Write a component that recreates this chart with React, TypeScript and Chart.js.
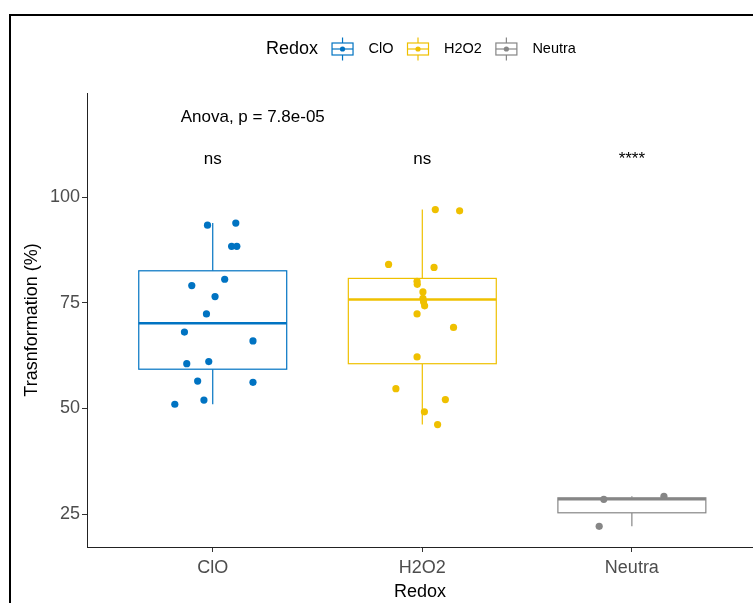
import React, { useEffect, useRef } from 'react';
import { Chart, registerables } from 'chart.js';
Chart.register(...registerables);

const categories = ['ClO', 'H2O2', 'Neutra'];
const seriesColors = ['#0073C2', '#EFC000', '#868686'];

const cioValues = [93.4, 93.9, 88.4, 88.4, 80.6, 79.1, 76.5, 72.4, 68.1, 66.0, 60.6, 61.1, 56.5, 56.2, 52.0, 51.0];
const cioJitter = [-0.025, 0.11, 0.09, 0.115, 0.057, -0.1, 0.011, -0.03, -0.135, 0.192, -0.124, -0.019, -0.072, 0.192, -0.042, -0.181];
const h2o2Values = [97.1, 96.8, 84.1, 83.4, 80.1, 79.4, 77.6, 76.1, 75.3, 74.3, 72.4, 69.2, 62.2, 54.7, 52.1, 49.2, 46.2];
const h2o2Jitter = [0.062, 0.178, -0.161, 0.056, -0.025, -0.024, 0.003, 0.003, 0.006, 0.011, -0.025, 0.149, -0.025, -0.126, 0.11, 0.01, 0.073];
const neutraValues = [28.5, 29.2, 22.1];
const neutraJitter = [-0.134, 0.153, -0.156];

const whiskerLow = [51.0, 46.2, 22.1];
const boxQ1 = [59.3, 60.6, 25.3];
const boxMedian = [70.2, 75.8, 28.5];
const boxQ3 = [82.6, 80.8, 28.85];
const whiskerHigh = [93.9, 97.1, 29.2];

const yTicks = [25, 50, 75, 100];
const xTicks = [0, 1, 2];
const sigLabels = ['ns', 'ns', '****'];
const sigY = 109.0;
const anovaLabel = 'Anova, p = 7.8e-05';
const anovaX = -0.153;
const anovaY = 119.0;

const FONT = '"Liberation Sans", Arial, sans-serif';
const BOX_HALF = 0.353;

const framePlugin = {
  id: 'frame',
  beforeDraw(chart: any) {
    const ctx = chart.ctx;
    ctx.save();
    ctx.fillStyle = '#ffffff';
    ctx.fillRect(0, 0, chart.width, chart.height);
    ctx.strokeStyle = '#000000';
    ctx.lineWidth = 2;
    ctx.strokeRect(10, 15, chart.width + 100, chart.height + 100);
    ctx.restore();
  },
};

const boxPlugin = {
  id: 'boxes',
  beforeDatasetsDraw(chart: any) {
    const { ctx } = chart;
    const xs = chart.scales.x;
    const ys = chart.scales.y;
    ctx.save();
    categories.forEach((_, i) => {
      const color = seriesColors[i];
      const xc = xs.getPixelForValue(i);
      const xl = xs.getPixelForValue(i - BOX_HALF);
      const xr = xs.getPixelForValue(i + BOX_HALF);
      const yLo = ys.getPixelForValue(whiskerLow[i]);
      const yQ1 = ys.getPixelForValue(boxQ1[i]);
      const yMed = ys.getPixelForValue(boxMedian[i]);
      const yQ3 = ys.getPixelForValue(boxQ3[i]);
      const yHi = ys.getPixelForValue(whiskerHigh[i]);
      ctx.strokeStyle = color;
      ctx.lineWidth = 1.2;
      ctx.beginPath();
      ctx.moveTo(xc, yQ3);
      ctx.lineTo(xc, yHi);
      ctx.moveTo(xc, yQ1);
      ctx.lineTo(xc, yLo);
      ctx.stroke();
      ctx.fillStyle = '#ffffff';
      ctx.fillRect(xl, yQ3, xr - xl, yQ1 - yQ3);
      ctx.strokeRect(xl, yQ3, xr - xl, yQ1 - yQ3);
      ctx.lineWidth = 2.5;
      ctx.beginPath();
      ctx.moveTo(xl, yMed);
      ctx.lineTo(xr, yMed);
      ctx.stroke();
    });
    ctx.restore();
  },
};

const textPlugin = {
  id: 'texts',
  afterDraw(chart: any) {
    const { ctx } = chart;
    const xs = chart.scales.x;
    const ys = chart.scales.y;
    ctx.save();
    ctx.fillStyle = '#000000';
    ctx.font = `17px ${FONT}`;
    ctx.textBaseline = 'middle';
    ctx.textAlign = 'left';
    ctx.fillText(anovaLabel, xs.getPixelForValue(anovaX), ys.getPixelForValue(anovaY));
    ctx.textAlign = 'center';
    sigLabels.forEach((s, i) => {
      ctx.fillText(s, xs.getPixelForValue(i), ys.getPixelForValue(sigY));
    });

    // legend
    const cy = 49;
    ctx.textAlign = 'left';
    ctx.font = `18px ${FONT}`;
    ctx.fillStyle = '#000000';
    let x = 266;
    ctx.fillText('Redox', x, cy);
    x += ctx.measureText('Redox').width + 14;
    ctx.font = `14.5px ${FONT}`;
    categories.forEach((c, i) => {
      const color = seriesColors[i];
      const kl = x;
      const kw = 21;
      const kc = kl + kw / 2;
      ctx.strokeStyle = color;
      ctx.lineWidth = 1.2;
      ctx.beginPath();
      ctx.moveTo(kc, cy - 11.5);
      ctx.lineTo(kc, cy + 11.5);
      ctx.stroke();
      ctx.fillStyle = '#ffffff';
      ctx.fillRect(kl, cy - 6, kw, 12);
      ctx.strokeRect(kl, cy - 6, kw, 12);
      ctx.beginPath();
      ctx.moveTo(kl, cy);
      ctx.lineTo(kl + kw, cy);
      ctx.stroke();
      ctx.fillStyle = color;
      ctx.beginPath();
      ctx.arc(kc, cy, 2.6, 0, Math.PI * 2);
      ctx.fill();
      const lx = kl + kw + 15.5;
      ctx.fillStyle = '#000000';
      ctx.fillText(c, lx, cy);
      x = lx + ctx.measureText(c).width + 14;
    });
    ctx.restore();
  },
};

export default function App() {
  const ref = useRef<HTMLCanvasElement>(null);
  useEffect(() => {
    if (!ref.current) return;
    const mk = (vals: number[], jit: number[], idx: number) =>
      vals.map((v, k) => ({ x: idx + jit[k], y: v }));
    const chart = new Chart(ref.current, {
      type: 'scatter',
      data: {
        datasets: [
          { label: categories[0], data: mk(cioValues, cioJitter, 0), backgroundColor: seriesColors[0] },
          { label: categories[1], data: mk(h2o2Values, h2o2Jitter, 1), backgroundColor: seriesColors[1] },
          { label: categories[2], data: mk(neutraValues, neutraJitter, 2), backgroundColor: seriesColors[2] },
        ].map((d) => ({ ...d, pointRadius: 3.6, borderWidth: 0, pointHoverRadius: 3.6 })),
      },
      options: {
        animation: false,
        responsive: false,
        devicePixelRatio: 1,
        layout: { autoPadding: false, padding: { top: 93, left: 0, right: 0, bottom: 0 } },
        plugins: { legend: { display: false }, tooltip: { enabled: false } },
        scales: {
          x: {
            type: 'linear',
            min: -0.6,
            max: 2.578,
            afterBuildTicks: (s: any) => {
              s.ticks = xTicks.map((v) => ({ value: v }));
            },
            afterFit: (s: any) => {
              s.height = 56;
              s.paddingLeft = 0;
              s.paddingRight = 0;
            },
            grid: { drawOnChartArea: false, drawTicks: true, tickLength: 5, color: '#333333' },
            border: { display: true, color: '#222222', width: 1 },
            ticks: {
              padding: 5,
              color: '#4D4D4D',
              font: { family: FONT, size: 18 },
              callback: (v: any) => categories[Number(v)] ?? '',
            },
            title: {
              display: true,
              text: 'Redox',
              color: '#000000',
              font: { family: FONT, size: 18 },
              padding: { top: 0, bottom: 0 },
            },
          },
          y: {
            type: 'linear',
            min: 17.2,
            max: 124.7,
            afterBuildTicks: (s: any) => {
              s.ticks = yTicks.map((v) => ({ value: v }));
            },
            afterFit: (s: any) => {
              s.width = 87;
              s.paddingTop = 0;
              s.paddingBottom = 0;
            },
            grid: { drawOnChartArea: false, drawTicks: true, tickLength: 5, color: '#333333' },
            border: { display: true, color: '#222222', width: 1 },
            ticks: {
              padding: 2,
              color: '#4D4D4D',
              font: { family: FONT, size: 18 },
            },
            title: {
              display: true,
              text: 'Trasnformation (%)',
              color: '#000000',
              font: { family: FONT, size: 18 },
              padding: { top: 21, bottom: 0 },
            },
          },
        },
      },
      plugins: [framePlugin, boxPlugin, textPlugin],
    } as any);
    return () => chart.destroy();
  }, []);
  return (
    <div style={{ position: 'absolute', left: 0, top: 0, width: 753, height: 603 }}>
      <canvas ref={ref} width={753} height={603} style={{ display: 'block', width: 753, height: 603 }} />
    </div>
  );
}
